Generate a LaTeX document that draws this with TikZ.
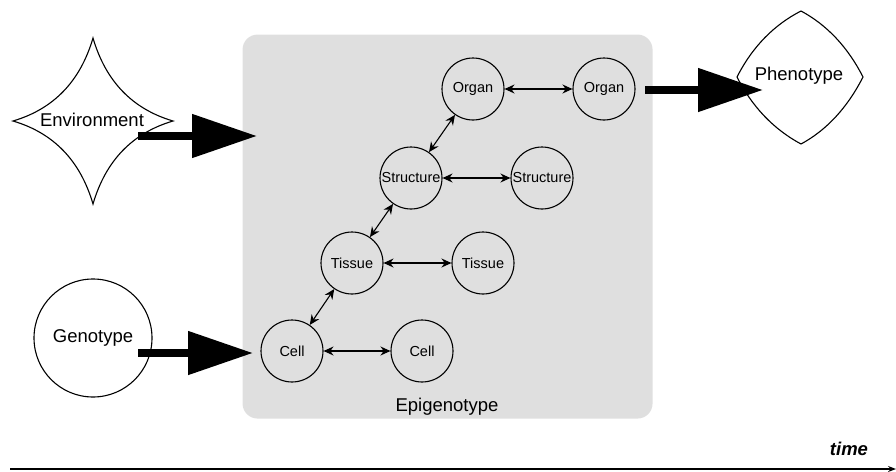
\documentclass[tikz,border=0pt]{standalone}
\usepackage{fontspec}
\setmainfont{Liberation Sans}
\usetikzlibrary{arrows.meta}
\definecolor{epigray}{gray}{0.875}

\begin{document}
\begin{tikzpicture}[x=1pt, y=-1pt,
                    line width=1.1pt,
                    >={Stealth[length=10pt,width=9pt]},
                    ]
    \tikzstyle{stage}=[circle,draw,minimum size=62pt,inner sep=0pt,font=\fontsize{14.5}{17}\selectfont]
    \tikzstyle{big}=[font=\fontsize{18.5}{22}\selectfont]
    \tikzstyle{link}=[<->]
    \tikzstyle{push}=[line width=8pt,-{Triangle[length=65pt,width=42pt]}]

    \useasboundingbox (0,0) rectangle (896,471);

    \node[fill=epigray,rounded corners=15pt,minimum width=410pt,minimum height=384pt,anchor=north west] (epi) at (242,34) {};
    \node[big] (epilabel) at (447,407) {Epigenotype};

    \node[stage] (cellA) at (292,351) {Cell};
    \node[stage] (cellB) at (422,351) {Cell};
    \node[stage] (tissueA) at (352,263) {Tissue};
    \node[stage] (tissueB) at (483,263) {Tissue};
    \node[stage] (structA) at (411,178) {Structure};
    \node[stage] (structB) at (542,178) {Structure};
    \node[stage] (organA) at (473,89) {Organ};
    \node[stage] (organB) at (604,89) {Organ};

    \draw[link] (cellA) -- (cellB);
    \draw[link] (tissueA) -- (tissueB);
    \draw[link] (structA) -- (structB);
    \draw[link] (organA) -- (organB);
    \draw[link] (cellA) -- (tissueA);
    \draw[link] (tissueA) -- (structA);
    \draw[link] (structA) -- (organA);

    \draw[fill=white] (93,38) .. controls (105.7,81.3) and (132.3,109) .. (173,121)
        .. controls (132.3,133) and (105.7,160.7) .. (93,204)
        .. controls (80.3,160.7) and (53.7,133) .. (13,121)
        .. controls (53.7,109) and (80.3,81.3) .. cycle;
    \node[big] (env) at (92,120) {Environment};

    \node[circle,draw,fill=white,minimum size=118pt,inner sep=0pt,big] (geno) at (93,338) {Genotype};

    \draw[fill=white] (801,11) .. controls (827,25) and (847.7,47) .. (863,77)
        .. controls (847.7,107) and (827,130) .. (801,144)
        .. controls (773.7,129.3) and (752.3,107) .. (737,77)
        .. controls (752.3,47) and (773.7,25) .. cycle;
    \node[big] (pheno) at (799,76) {Phenotype};

    \coordinate (envtail) at (138,136);
    \coordinate (envtip) at (257,136);
    \coordinate (genotail) at (138,353);
    \coordinate (genotip) at (253,353);
    \coordinate (phenotail) at (645,90);
    \coordinate (phenotip) at (763,90);

    \draw[push] (envtail) -- (envtip);
    \draw[push] (genotail) -- (genotip);
    \draw[push] (phenotail) -- (phenotip);

    \coordinate (tstart) at (10,469);
    \coordinate (tend) at (896,469);
    \draw[line width=1.5pt,-{Stealth[length=8pt,width=6pt]}] (tstart) -- (tend);
    \node[font=\bfseries\itshape\fontsize{18.5}{22}\selectfont] (timelabel) at (849,449) {time};
\end{tikzpicture}
\end{document}
